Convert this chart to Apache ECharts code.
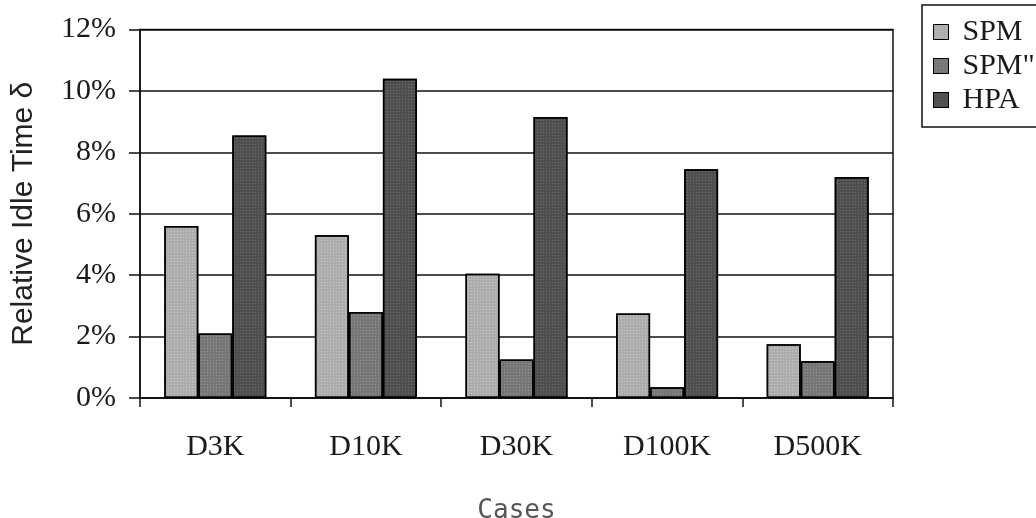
<!DOCTYPE html>
<html>
<head>
<meta charset="utf-8">
<script src="https://cdn.jsdelivr.net/npm/echarts@6/dist/echarts.min.js"></script>
<style>
  html, body { margin: 0; padding: 0; background: #fff; }
  #chart { width: 1036px; height: 518px; }
</style>
</head>
<body>
<div id="chart"></div>
<script>
// Relative idle time per test case, in percent
const cases = ['D3K', 'D10K', 'D30K', 'D100K', 'D500K'];
const spm = [5.6, 5.3, 4.05, 2.75, 1.75];
const spm2 = [2.1, 2.8, 1.25, 0.35, 1.2];
const hpa = [8.55, 10.4, 9.15, 7.45, 7.2];
const seriesNames = ['SPM', 'SPM"', 'HPA'];

const serif = 'Liberation Serif';
const ink = '#1a1a1a';

// fine dot texture laid over each bar fill
function dots(color) {
  return {
    symbol: 'rect',
    symbolSize: 1,
    dashArrayX: [1, 2],
    dashArrayY: [1, 2],
    rotation: 0,
    color: color
  };
}

function barSeries(name, values, fill, dotColor) {
  return {
    name: name,
    type: 'bar',
    data: values,
    barWidth: 34,
    barGap: '0%',
    itemStyle: {
      color: fill,
      borderColor: '#000',
      borderWidth: 1.5,
      decal: dots(dotColor)
    }
  };
}

const chart = echarts.init(document.getElementById('chart'), null, { renderer: 'canvas' });
chart.setOption({
  animation: false,
  backgroundColor: '#fff',
  aria: { enabled: false },
  grid: {
    left: 140, right: 143, top: 29.5, bottom: 120,
    outerBoundsMode: 'none',
    containLabel: false,
    show: true, borderColor: '#111', borderWidth: 1.5
  },
  legend: {
    left: 922, top: 5,
    orient: 'vertical',
    padding: [12, 12, 12, 11],
    icon: 'rect',
    itemWidth: 15, itemHeight: 15,
    itemGap: 4,
    borderColor: '#111', borderWidth: 1.5,
    backgroundColor: '#fff',
    data: seriesNames,
    itemStyle: { borderColor: '#000', borderWidth: 1 },
    textStyle: {
      fontFamily: serif, fontSize: 30, color: ink,
      lineHeight: 30, padding: [0, 0, 0, 9]
    }
  },
  xAxis: {
    type: 'category',
    data: cases,
    name: 'Cases',
    nameLocation: 'middle',
    nameGap: 100,
    nameTextStyle: { fontFamily: 'DejaVu Sans Mono', fontSize: 26, color: '#555' },
    axisLine: { show: true, lineStyle: { color: '#111', width: 1.5 } },
    axisTick: { show: true, length: 9, alignWithLabel: false, lineStyle: { color: '#111', width: 1.5 } },
    axisLabel: { fontFamily: serif, fontSize: 30, color: ink, margin: 34 },
    splitLine: { show: false }
  },
  yAxis: {
    type: 'value',
    min: 0, max: 12, interval: 2,
    name: 'Relative Idle Time δ',
    nameLocation: 'middle',
    nameGap: 101,
    nameTextStyle: { fontFamily: 'Liberation Sans', fontSize: 30, color: '#222' },
    axisLine: { show: true, lineStyle: { color: '#111', width: 1.5 } },
    axisTick: { show: true, length: 11, lineStyle: { color: '#111', width: 1.5 } },
    axisLabel: { fontFamily: serif, fontSize: 30, color: ink, margin: 24, formatter: '{value}%' },
    splitLine: { show: true, lineStyle: { color: '#111', width: 1.5 } }
  },
  series: [
    barSeries(seriesNames[0], spm, '#adadad', 'rgba(255,255,255,0.35)'),
    barSeries(seriesNames[1], spm2, '#767676', 'rgba(255,255,255,0.25)'),
    barSeries(seriesNames[2], hpa, '#4f4f4f', 'rgba(255,255,255,0.18)')
  ]
});
</script>
</body>
</html>
